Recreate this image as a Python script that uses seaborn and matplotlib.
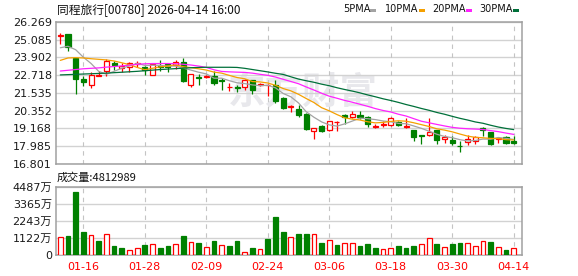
import numpy as np
import pandas as pd
import matplotlib
matplotlib.use("Agg")
import matplotlib.pyplot as plt
import seaborn as sns
from matplotlib.patches import Rectangle

# ---------------- data ----------------
title = "同程旅行[00780] 2026-04-14 16:00"
dates = ["01-13", "01-14", "01-15", "01-16", "01-19", "01-20", "01-21", "01-22", "01-23", "01-26",
         "01-27", "01-28", "01-29", "01-30", "02-02", "02-03", "02-04", "02-05", "02-06", "02-09",
         "02-10", "02-11", "02-12", "02-13", "02-16", "02-20", "02-23", "02-24", "02-25", "02-26",
         "02-27", "03-02", "03-03", "03-04", "03-05", "03-06", "03-09", "03-10", "03-11", "03-12",
         "03-13", "03-16", "03-17", "03-18", "03-19", "03-20", "03-23", "03-24", "03-25", "03-26",
         "03-27", "03-30", "03-31", "04-01", "04-02", "04-08", "04-09", "04-10", "04-13", "04-14"]
opens = [25.31, 25.47, 23.87, 22.47, 22.05, 22.70, 23.03, 23.56, 23.20, 23.25,
         23.45, 23.27, 22.76, 23.36, 23.47, 23.38, 23.58, 22.05, 22.62, 22.58,
         22.65, 22.42, 21.91, 21.93, 21.91, 22.38, 22.07, 22.05, 22.09, 21.20,
         20.58, 20.49, 20.14, 18.98, 19.36, 19.05, 19.58, 20.05, 19.91, 20.05,
         19.91, 19.27, 19.38, 19.42, 19.62, 19.29, 19.07, 18.71, 18.71, 19.07,
         18.49, 18.40, 18.02, 18.27, 18.31, 19.20, 18.93, 18.47, 18.58, 18.31]
highs = [25.54, 25.47, 23.90, 22.65, 22.94, 23.00, 23.80, 23.65, 23.54, 23.58,
         23.67, 23.36, 23.53, 23.76, 23.49, 23.71, 23.87, 22.82, 22.82, 22.76,
         22.98, 22.54, 22.20, 22.09, 22.49, 22.42, 22.20, 22.14, 22.42, 21.27,
         20.73, 20.76, 20.20, 19.20, 19.42, 19.69, 19.67, 20.14, 20.31, 20.31,
         19.98, 19.47, 19.69, 19.91, 19.69, 19.87, 19.09, 18.74, 19.87, 19.09,
         18.76, 18.65, 18.31, 18.76, 18.65, 19.25, 18.96, 18.58, 18.65, 18.65]
lows = [24.82, 24.31, 21.49, 22.02, 21.87, 22.64, 22.69, 23.09, 22.93, 22.94,
        23.27, 22.76, 22.71, 22.98, 22.91, 23.11, 22.27, 21.96, 22.09, 22.51,
        22.05, 21.76, 21.65, 21.60, 21.76, 21.49, 22.02, 21.31, 20.87, 20.49,
        20.25, 19.91, 19.09, 18.49, 18.93, 18.98, 18.98, 19.47, 19.87, 19.82,
        19.29, 19.20, 19.25, 19.36, 19.36, 19.20, 18.31, 18.14, 18.69, 18.14,
        18.20, 18.09, 17.58, 18.05, 18.16, 18.65, 18.09, 18.20, 18.14, 18.16]
closes = [25.40, 24.60, 22.49, 22.27, 22.76, 22.75, 23.69, 23.43, 23.31, 23.54,
          23.56, 23.05, 23.47, 23.27, 23.25, 23.63, 22.36, 22.80, 22.56, 22.69,
          22.20, 22.36, 21.96, 21.87, 22.42, 21.76, 22.11, 22.09, 21.02, 20.54,
          20.65, 20.05, 19.16, 19.20, 18.98, 19.66, 19.63, 19.91, 20.14, 19.96,
          19.47, 19.33, 19.45, 19.87, 19.42, 19.36, 18.58, 18.65, 18.91, 18.42,
          18.62, 18.18, 17.98, 18.49, 18.58, 19.09, 18.14, 18.54, 18.20, 18.22]
# volume in units of 万 (10,000 shares)
volumes = [1188, 1231, 4150, 1490, 1296, 907, 1404, 583, 454, 302,
           432, 648, 713, 454, 583, 691, 1231, 886, 799, 497,
           907, 648, 583, 907, 173, 454, 367, 1037, 2484, 1490,
           1188, 1361, 1361, 1361, 799, 1015, 648, 756, 756, 583,
           713, 432, 367, 432, 583, 454, 583, 713, 1145, 713,
           497, 713, 756, 756, 583, 907, 842, 497, 324, 481.2989]
# moving-average values before enough closes exist in the window
ma5_head = [24.55, 24.65, 24.42, 23.92]
ma10_head = [23.71, 23.87, 23.89, 23.87, 23.82, 23.78, 23.74, 23.67, 23.55]
ma20_head = [23.00, 23.05, 23.10, 23.15, 23.18, 23.21, 23.26, 23.30, 23.34, 23.39,
             23.45, 23.48, 23.50, 23.50, 23.50, 23.49, 23.45, 23.40, 23.33]
ma30_head = [22.74, 22.76, 22.78, 22.80, 22.82, 22.84, 22.86, 22.89, 22.92, 22.95,
             22.98, 23.02, 23.06, 23.10, 23.13, 23.16, 23.19, 23.22, 23.24, 23.25,
             23.25, 23.25, 23.25, 23.24, 23.18, 23.10, 23.02, 22.94, 22.85]
ma_names = ["5PMA", "10PMA", "20PMA", "30PMA"]
ma_windows = [5, 10, 20, 30]
ma_colors = ["#a3a3a3", "#f5a000", "#ff22ff", "#00703a"]
price_ticks = [16.801, 17.985, 19.168, 20.352, 21.535, 22.718, 23.902, 25.085, 26.269]
vol_ticks = [0, 1122, 2243, 3365, 4487]
vol_tick_labels = ["0", "1122万", "2243万", "3365万", "4487万"]
xtick_labels = ["01-16", "01-28", "02-09", "02-24", "03-06", "03-18", "03-30", "04-14"]

RED = "#ff0000"
GREEN = "#008000"

# ---------------- build frame ----------------
df = pd.DataFrame({"date": dates, "open": opens, "high": highs, "low": lows,
                   "close": closes, "volume": volumes})
df["idx"] = np.arange(len(df))
heads = [ma5_head, ma10_head, ma20_head, ma30_head]
for name, n, head in zip(ma_names, ma_windows, heads):
    s = df["close"].rolling(n).mean().values
    s[:n - 1] = head
    df[name] = s
prev_close = df["close"].shift(1).fillna(df["open"])
df["vol_up"] = df["close"] >= prev_close

# ---------------- figure ----------------
sns.set_theme(style="white")
plt.rcParams["font.family"] = ["DejaVu Sans", "Noto Sans CJK SC"]
W, H = 578, 276
fig = plt.figure(figsize=(W / 100, H / 100), dpi=100)
fig.patch.set_facecolor("white")


def rect(l, t, r, b):
    return [l / W, 1 - b / H, (r - l) / W, (b - t) / H]


ax = fig.add_axes(rect(56, 22, 522, 164))
axv = fig.add_axes(rect(56, 186.7, 522, 255))

xlim = (-0.56, 60.08)
tick_idx = [dates.index(d) for d in xtick_labels]

for a in (ax, axv):
    a.set_facecolor("white")
    a.set_xlim(*xlim)
    for sp in a.spines.values():
        sp.set_color("#a0a0a0")
        sp.set_linewidth(1.1)
    a.tick_params(axis="both", length=0, labelsize=8, colors="#1a1a1a")
    for t in tick_idx:
        a.axvline(t, color="#c4c4c4", lw=0.8, ls=(0, (4, 4)), zorder=1)

# price panel grid
ax.set_ylim(price_ticks[0], price_ticks[-1])
ax.set_yticks(price_ticks)
ax.set_yticklabels([f"{v:.3f}" for v in price_ticks])
ax.yaxis.grid(True, color="#d2d2d2", lw=1.0, zorder=1)
ax.xaxis.grid(False)
ax.set_xticks([])
ax.tick_params(axis="y", pad=3)

# watermark
ax.text(0.53, 0.50, "东方财富", transform=ax.transAxes, ha="center", va="center",
        fontsize=27, fontweight="bold", color="#e8e8ec", family=["Noto Sans CJK SC"],
        zorder=0.5)

# candles
for _, r in df.iterrows():
    up = r["close"] > r["open"]
    col = RED if up else GREEN
    ax.vlines(r["idx"], r["low"], r["high"], color=col, lw=0.9, zorder=3)
    lo = min(r["open"], r["close"])
    h = max(abs(r["close"] - r["open"]), 0.004)
    ax.bar(r["idx"], h, bottom=lo, width=0.66, facecolor="white" if up else GREEN,
           edgecolor=col, linewidth=0.9, zorder=4)

# moving averages
for name, c in zip(ma_names, ma_colors):
    sns.lineplot(data=df, x="idx", y=name, ax=ax, color=c, lw=0.9, zorder=5,
                 legend=False)
ax.set_xlabel("")
ax.set_ylabel("")
ax.set_xlim(*xlim)

# volume panel
axv.set_ylim(0, vol_ticks[-1])
axv.set_yticks(vol_ticks)
axv.set_yticklabels(vol_tick_labels)
axv.yaxis.grid(True, color="#d2d2d2", lw=1.0, zorder=1)
axv.tick_params(axis="y", pad=3)
for _, r in df.iterrows():
    up = bool(r["vol_up"])
    col = RED if up else GREEN
    axv.bar(r["idx"], r["volume"], width=0.62, facecolor="white" if up else GREEN,
            edgecolor=col, linewidth=0.9, zorder=4)
axv.set_xticks(tick_idx)
axv.set_xticklabels(xtick_labels, color=RED)
axv.tick_params(axis="x", pad=5, labelcolor=RED)

# header texts
fig.text(57 / W, 1 - 9.5 / H, title, ha="left", va="center", fontsize=8.5,
         family=["Noto Sans CJK SC", "DejaVu Sans"], color="#111111")
leg_text_x = [343, 385, 432, 479]
leg_sq_x = [370, 419, 466, 512.5]
for name, c, tx, sx in zip(ma_names, ma_colors, leg_text_x, leg_sq_x):
    fig.text(tx / W, 1 - 9.5 / H, name, ha="left", va="center", fontsize=7,
             color="#111111")
    fig.patches.append(Rectangle((sx / W, 1 - 12 / H), 6 / W, 3.5 / H,
                                 transform=fig.transFigure, facecolor=c,
                                 edgecolor="none"))
vol_label = f"成交量:{int(round(volumes[-1] * 10000))}"
fig.text(57 / W, 1 - 177.5 / H, vol_label, ha="left", va="center", fontsize=8,
         family=["Noto Sans CJK SC", "DejaVu Sans"], color="#111111")

fig.savefig("out.png", dpi=100, facecolor="white")
